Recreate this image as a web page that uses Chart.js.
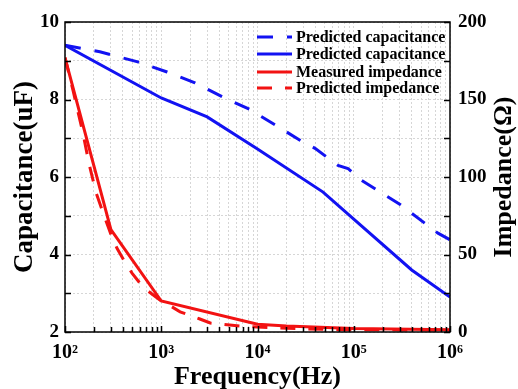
<!DOCTYPE html>
<html>
<head>
<meta charset="utf-8">
<script src="https://cdn.jsdelivr.net/npm/chart.js@4.4.1/dist/chart.umd.min.js"></script>
<style>
  html, body { margin: 0; padding: 0; background: #fff; }
  #wrap { width: 518px; height: 389px; }
</style>
</head>
<body>
<div id="wrap"><canvas id="chart" width="518" height="389"></canvas></div>
<script>
// predicted capacitance (dashed), left axis
const capDashFreq = [100, 230, 570, 1150, 2240, 4300, 8360, 15800, 27600, 39600, 68600, 87100, 119000, 300000, 750000, 1000000];
const capDashVals = [9.4, 9.23, 8.97, 8.71, 8.43, 8.07, 7.74, 7.32, 6.95, 6.74, 6.3, 6.22, 5.92, 5.3, 4.55, 4.38];
// predicted capacitance (solid), left axis
const capSolidFreq = [100, 1000, 3000, 10000, 48000, 100000, 400000, 1000000];
const capSolidVals = [9.4, 8.04, 7.55, 6.72, 5.61, 4.91, 3.6, 2.9];
// measured impedance (solid), right axis
const impMeasFreq = [100, 300, 1000, 10000, 20000, 100000, 1000000];
const impMeasVals = [177, 66, 20, 5, 3.8, 2.2, 1.5];
// predicted impedance (dashed), right axis
const impPredFreq = [100, 121, 154, 177, 210, 242, 308, 347, 420, 497, 646, 820, 1000, 1230, 1570, 2520, 3230, 5150, 6600, 10000, 30000, 100000, 1000000];
const impPredVals = [177, 156, 128, 109, 90, 79, 61, 54, 45, 38, 29, 24, 20, 17, 13, 8.4, 5.8, 4.5, 3.9, 3.2, 2, 1.5, 1.2];

const seriesLabels = ['Predicted capacitance', 'Predicted capacitance', 'Measured impedance', 'Predicted impedance'];
const decades = [100, 1000, 10000, 100000, 1000000];
const decadeLabels = ['10\u00b2', '10\u00b3', '10\u2074', '10\u2075', '10\u2076'];

const serif = "'Times New Roman', 'Liberation Serif', serif";

function pts(fx, fy) { return fx.map((f, i) => ({x: f, y: fy[i]})); }

let xTicks = [];
decades.forEach((d, i) => {
  if (i === decades.length - 1) { xTicks.push(d); return; }
  for (let k = 1; k <= 9; k++) xTicks.push(d * k);
});

const frame = {
  id: 'frame',
  afterDraw(chart) {
    const {ctx, chartArea: a, scales} = chart;
    ctx.save();
    ctx.strokeStyle = '#000';
    ctx.lineWidth = 1.5;
    ctx.beginPath();
    scales.x.ticks.forEach(t => {
      const px = Math.round(scales.x.getPixelForValue(t.value)) + 0.5;
      const len = decades.includes(t.value) ? 6 : 5;
      ctx.moveTo(px, a.bottom); ctx.lineTo(px, a.bottom - len);
    });
    scales.y.ticks.forEach(t => {
      const py = Math.round(scales.y.getPixelForValue(t.value)) + 0.5;
      ctx.moveTo(a.left, py); ctx.lineTo(a.left + 6, py);
    });
    scales.y2.ticks.forEach(t => {
      const py = Math.round(scales.y2.getPixelForValue(t.value)) + 0.5;
      ctx.moveTo(a.right, py); ctx.lineTo(a.right - 6, py);
    });
    ctx.stroke();
    ctx.strokeRect(a.left, a.top, a.right - a.left, a.bottom - a.top);

    // right axis title, reading bottom to top
    ctx.fillStyle = '#000';
    ctx.font = 'bold 26px ' + serif;
    ctx.textAlign = 'center';
    ctx.textBaseline = 'middle';
    ctx.translate(504, (a.top + a.bottom) / 2);
    ctx.rotate(-Math.PI / 2);
    ctx.fillText('Impedance(\u03a9)', 0, 0);
    ctx.restore();

    // legend inside the plot
    ctx.save();
    ctx.font = 'bold 16px ' + serif;
    ctx.textAlign = 'left';
    ctx.textBaseline = 'middle';
    const rows = [15, 32, 50, 66];
    chart.data.datasets.forEach((ds, i) => {
      const y = a.top + rows[i];
      ctx.strokeStyle = ds.borderColor;
      ctx.lineWidth = ds.borderWidth;
      ctx.setLineDash(ds.borderDash || []);
      ctx.beginPath();
      ctx.moveTo(a.right - 193, y);
      ctx.lineTo(a.right - 158, y);
      ctx.stroke();
      ctx.fillStyle = '#000';
      ctx.fillText(ds.label, a.right - 154, y + 1);
    });
    ctx.restore();
  }
};

new Chart(document.getElementById('chart'), {
  type: 'line',
  data: {
    datasets: [{
      label: seriesLabels[0],
      data: pts(capDashFreq, capDashVals),
      borderColor: '#1212f2',
      borderWidth: 3,
      borderDash: [16, 14],
      yAxisID: 'y'
    }, {
      label: seriesLabels[1],
      data: pts(capSolidFreq, capSolidVals),
      borderColor: '#1212f2',
      borderWidth: 3,
      yAxisID: 'y'
    }, {
      label: seriesLabels[2],
      data: pts(impMeasFreq, impMeasVals),
      borderColor: '#f21212',
      borderWidth: 3,
      yAxisID: 'y2'
    }, {
      label: seriesLabels[3],
      data: pts(impPredFreq, impPredVals),
      borderColor: '#f21212',
      borderWidth: 3,
      borderDash: [15, 13],
      yAxisID: 'y2'
    }]
  },
  options: {
    responsive: false,
    animation: false,
    layout: { padding: { top: 22, left: 0, right: 0, bottom: 0 } },
    elements: { point: { radius: 0 }, line: { tension: 0, fill: false } },
    plugins: { legend: { display: false }, tooltip: { enabled: false } },
    scales: {
      x: {
        type: 'logarithmic',
        min: 100,
        max: 1000000,
        afterBuildTicks: s => { s.ticks = xTicks.map(v => ({value: v})); },
        afterFit: s => { s.height = 57; },
        grid: { color: '#d6d6d6', lineWidth: 1, drawTicks: false },
        border: { display: false, dash: [2, 2] },
        ticks: {
          autoSkip: false,
          maxRotation: 0,
          padding: 9,
          color: '#000',
          font: { family: serif, size: 20, weight: 'bold' },
          callback: v => { const i = decades.indexOf(v); return i >= 0 ? decadeLabels[i] : ''; }
        },
        title: {
          display: true,
          text: 'Frequency(Hz)',
          color: '#000',
          padding: { top: 0, bottom: -4 },
          font: { family: serif, size: 26, weight: 'bold' }
        }
      },
      y: {
        position: 'left',
        min: 2,
        max: 10,
        afterFit: s => { s.width = 65; },
        grid: { color: '#d6d6d6', lineWidth: 1, drawTicks: false },
        border: { display: false, dash: [2, 2] },
        ticks: {
          stepSize: 1,
          padding: 6,
          color: '#000',
          font: { family: serif, size: 19, weight: 'bold' },
          callback: v => (v % 2 === 0 ? String(v) : '')
        },
        title: {
          display: true,
          text: 'Capacitance(uF)',
          color: '#000',
          padding: { top: 9, bottom: 0 },
          font: { family: serif, size: 27, weight: 'bold' }
        }
      },
      y2: {
        position: 'right',
        min: 0,
        max: 200,
        afterFit: s => { s.width = 68; },
        grid: { drawOnChartArea: false, drawTicks: false },
        border: { display: false },
        ticks: {
          stepSize: 25,
          padding: 8,
          color: '#000',
          font: { family: serif, size: 19, weight: 'bold' },
          callback: v => (v % 50 === 0 ? String(v) : '')
        }
      }
    }
  },
  plugins: [frame]
});
</script>
</body>
</html>
